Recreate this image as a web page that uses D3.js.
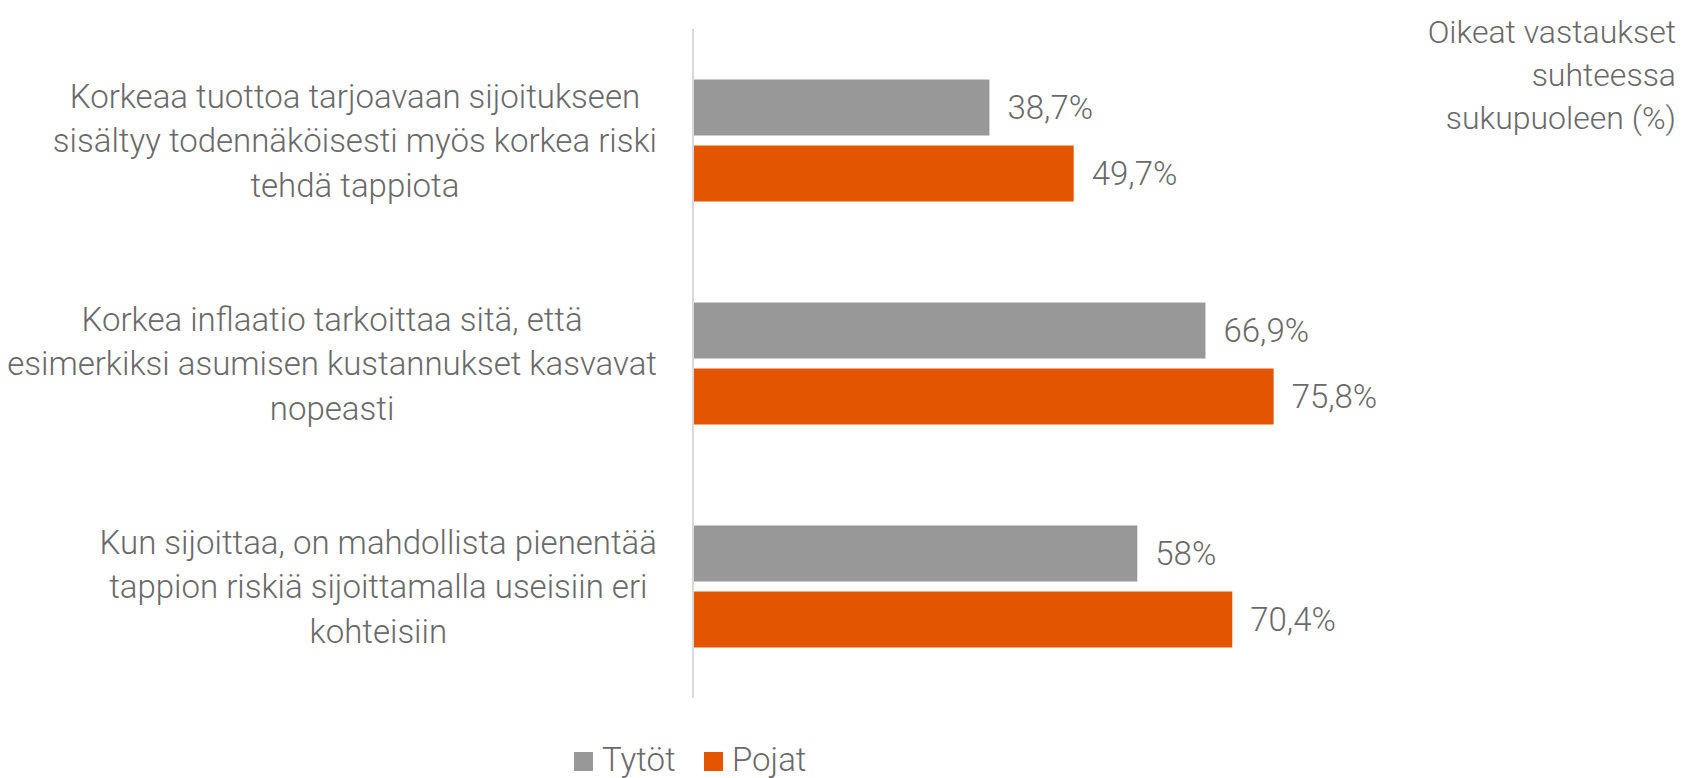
<!DOCTYPE html>
<html>
<head>
<meta charset="utf-8">
<script src="https://cdn.jsdelivr.net/npm/d3@7"></script>
<style>
  body { margin: 0; background: #fff; }
  svg text { font-family: Roboto, "Noto Sans", sans-serif; font-weight: 300; fill: #696969; }
</style>
</head>
<body>
<div id="chart"></div>
<script>
"use strict";

// chart data
var categories = [
  ["Korkeaa tuottoa tarjoavaan sijoitukseen", "sisältyy todennäköisesti myös korkea riski", "tehdä tappiota"],
  ["Korkea inflaatio tarkoittaa sitä, että", "esimerkiksi asumisen kustannukset kasvavat", "nopeasti"],
  ["Kun sijoittaa, on mahdollista pienentää", "tappion riskiä sijoittamalla useisiin eri", "kohteisiin"]
];
var series = ["Tytöt", "Pojat"];
var tytot = [38.7, 66.9, 58];
var pojat = [49.7, 75.8, 70.4];
var valueLabels = [["38,7%", "66,9%", "58%"], ["49,7%", "75,8%", "70,4%"]];
var titleLines = ["Oikeat vastaukset", "suhteessa", "sukupuoleen (%)"];

var colors = { "Tytöt": "#989898", "Pojat": "#e35500" };

// global sizes
var width = 1685, height = 778;
var margin = { top: 29, left: 693, bottom: 80 };
var plotBottom = 698;

var svg = d3.select("#chart").append("svg")
  .attr("width", width)
  .attr("height", height);

var x = d3.scaleLinear().domain([0, 100]).range([margin.left, margin.left + 766]);

var y = d3.scaleBand()
  .domain(d3.range(categories.length))
  .range([margin.top, plotBottom]);

var ySeries = d3.scaleBand()
  .domain(series)
  .range([0, y.bandwidth()])
  .paddingInner(10 / 66)
  .paddingOuter(0.765);

var rows = series.map(function (s, si) {
  var vals = si === 0 ? tytot : pojat;
  return vals.map(function (v, ci) {
    return { series: s, cat: ci, value: v, label: valueLabels[si][ci] };
  });
});
var flat = d3.merge(rows);

// axis line at zero
svg.append("line")
  .attr("x1", x(0)).attr("x2", x(0))
  .attr("y1", margin.top).attr("y2", plotBottom)
  .attr("stroke", "#d9d9d9")
  .attr("stroke-width", 2);

// bars
svg.selectAll(".bar").data(flat).enter().append("rect")
  .attr("class", "bar")
  .attr("x", x(0) + 1)
  .attr("y", function (d) { return y(d.cat) + ySeries(d.series); })
  .attr("width", function (d) { return x(d.value) - x(0) - 1; })
  .attr("height", ySeries.bandwidth())
  .attr("fill", function (d) { return colors[d.series]; });

// value labels
svg.selectAll(".val").data(flat).enter().append("text")
  .attr("class", "val")
  .attr("x", function (d) { return x(d.value) + 18; })
  .attr("y", function (d) { return y(d.cat) + ySeries(d.series) + ySeries.bandwidth() / 2; })
  .attr("dy", "0.36em")
  .style("font-size", "33px")
  .text(function (d) { return d.label; });

// category labels, lines centred on the widest line, which ends near the axis
var lineGap = 44.6;
var labelRight = 657;
categories.forEach(function (lines, ci) {
  var g = svg.append("g").attr("class", "catLabel");
  var texts = g.selectAll("text").data(lines).enter().append("text")
    .style("font-size", "33px")
    .attr("text-anchor", "middle")
    .attr("y", function (d, i) {
      return y(ci) + y.bandwidth() / 2 + (i - (lines.length - 1) / 2) * lineGap;
    })
    .attr("dy", "0.36em")
    .text(function (d) { return d; });
  var maxW = d3.max(texts.nodes(), function (n) { return n.getComputedTextLength(); });
  texts.attr("x", labelRight - maxW / 2);
});

// title in the top right corner
svg.append("g").selectAll("text").data(titleLines).enter().append("text")
  .attr("x", 1676)
  .attr("y", function (d, i) { return 43 + i * 43; })
  .attr("text-anchor", "end")
  .style("font-size", "32px")
  .text(function (d) { return d; });

// legend
var legendX = [574, 704];
var legend = svg.append("g").attr("class", "legend");
legend.selectAll("rect").data(series).enter().append("rect")
  .attr("x", function (d, i) { return legendX[i]; })
  .attr("y", 752)
  .attr("width", 19)
  .attr("height", 19)
  .attr("fill", function (d) { return colors[d]; });
legend.selectAll("text").data(series).enter().append("text")
  .attr("x", function (d, i) { return legendX[i] + 28; })
  .attr("y", 771)
  .style("font-size", "33px")
  .text(function (d) { return d; });
</script>
</body>
</html>
